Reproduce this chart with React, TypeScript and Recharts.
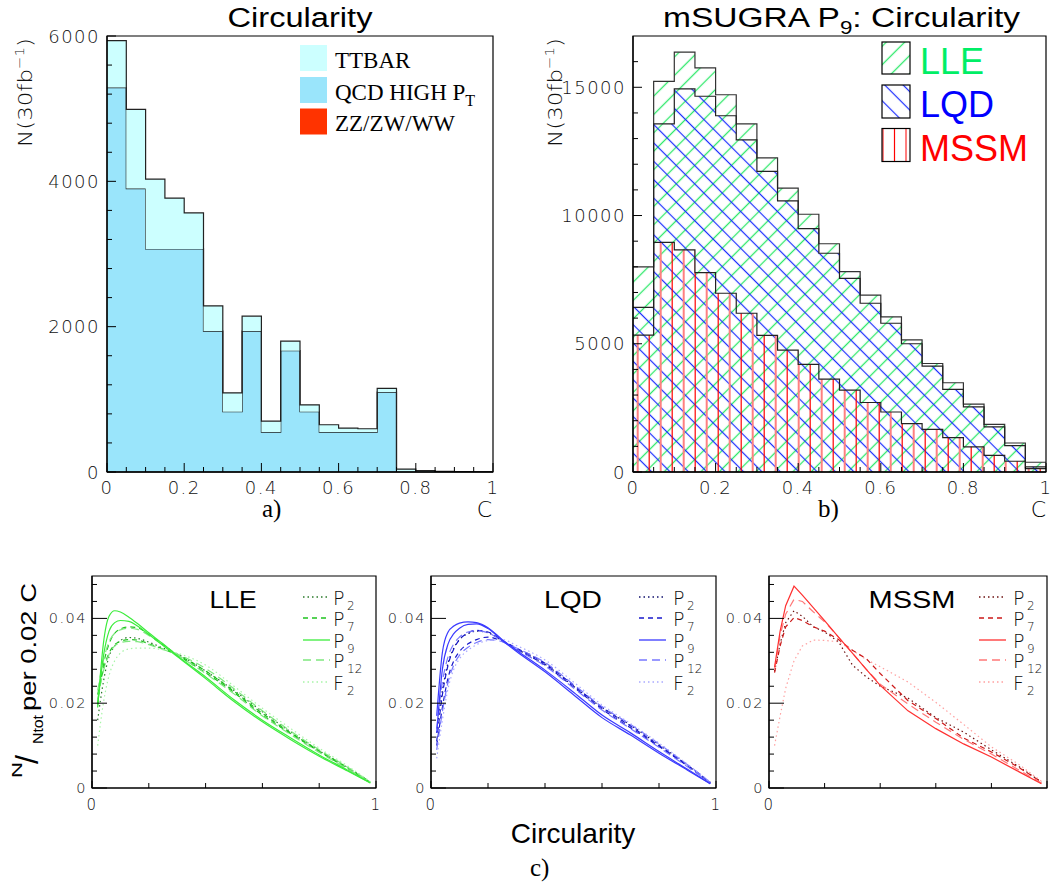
import React from 'react'
import { Area, ComposedChart, Line, LineChart, ReferenceArea, XAxis, YAxis } from 'recharts'

// histogram binning shared by the two upper panels
const binLow = [0, 0.05, 0.1, 0.15, 0.2, 0.25, 0.3, 0.35, 0.4, 0.45, 0.5, 0.55, 0.6, 0.65, 0.7, 0.75, 0.8, 0.85, 0.9, 0.95]
const binTop = 1

// a) Standard Model backgrounds, stacked
const qcdHighPt = [5290, 3900, 3070, 3070, 3070, 1940, 830, 1940, 550, 1670, 830, 550, 550, 550, 1100, 0, 0, 0, 0, 0]
const dibosons = [0, 0, 0, 0, 0, 0, 0, 0, 0, 0, 0, 0, 0, 0, 0, 0, 0, 0, 0, 0]
const ttbar = [645, 1090, 960, 700, 495, 345, 260, 205, 150, 130, 95, 100, 55, 45, 50, 40, 20, 8, 5, 3]

// b) mSUGRA point 9, overlaid
const lle = [8000, 15230, 16370, 15760, 14710, 13570, 12250, 11070, 10050, 8900, 7810, 6900, 6050, 5150, 4230, 3480, 2650, 1860, 1130, 380]
const lqd = [6420, 13570, 14940, 14650, 13890, 12950, 11720, 10570, 9490, 8530, 7550, 6580, 5800, 5000, 4130, 3220, 2540, 1760, 1030, 200]
const mssm = [5340, 8950, 8660, 7770, 6970, 6190, 5330, 4750, 4200, 3620, 3190, 2710, 2340, 1890, 1660, 1340, 980, 650, 420, 130]

// c) normalised shapes
const shapeX = [0.02, 0.04, 0.06, 0.08, 0.1, 0.13, 0.16, 0.2, 0.25, 0.3, 0.4, 0.5, 0.6, 0.7, 0.8, 0.9, 0.98]
const lleP2 = [0.016, 0.025, 0.031, 0.0335, 0.0348, 0.0355, 0.0353, 0.0344, 0.033, 0.0316, 0.0276, 0.023, 0.018, 0.0132, 0.0088, 0.0048, 0.0014]
const lleP7a = [0.02, 0.029, 0.034, 0.0365, 0.0375, 0.038, 0.0378, 0.0362, 0.0338, 0.0314, 0.0272, 0.0225, 0.0172, 0.0128, 0.0086, 0.0046, 0.0013]
const lleP7b = [0.022, 0.028, 0.0318, 0.0338, 0.0346, 0.035, 0.0349, 0.034, 0.0328, 0.0314, 0.0276, 0.0228, 0.0176, 0.013, 0.0088, 0.0048, 0.0014]
const lleP9a = [0.019, 0.034, 0.0405, 0.0418, 0.0415, 0.0403, 0.0388, 0.0366, 0.034, 0.0312, 0.0262, 0.0208, 0.016, 0.0118, 0.0078, 0.0042, 0.0012]
const lleP9b = [0.0195, 0.031, 0.037, 0.039, 0.0395, 0.0393, 0.0382, 0.0362, 0.0336, 0.031, 0.0258, 0.0204, 0.0156, 0.0114, 0.0075, 0.004, 0.0012]
const lleP12a = [0.023, 0.03, 0.0345, 0.0365, 0.0373, 0.0377, 0.0374, 0.036, 0.0337, 0.0314, 0.027, 0.0222, 0.017, 0.0126, 0.0084, 0.0045, 0.0013]
const lleP12b = [0.021, 0.0275, 0.0315, 0.0335, 0.0343, 0.0346, 0.0345, 0.0338, 0.0327, 0.0316, 0.0282, 0.0234, 0.0182, 0.0134, 0.009, 0.0049, 0.0014]
const lleF2 = [0.01, 0.02, 0.0265, 0.03, 0.0318, 0.0328, 0.033, 0.033, 0.0326, 0.0318, 0.029, 0.024, 0.0188, 0.014, 0.0094, 0.0052, 0.0015]

const lqdP2 = [0.013, 0.023, 0.0295, 0.033, 0.035, 0.0364, 0.037, 0.0366, 0.0347, 0.0328, 0.0292, 0.024, 0.019, 0.0148, 0.0102, 0.0054, 0.0013]
const lqdP7a = [0.011, 0.022, 0.029, 0.0328, 0.035, 0.0366, 0.0372, 0.0368, 0.0348, 0.0328, 0.029, 0.0238, 0.0186, 0.0142, 0.0098, 0.0052, 0.0012]
const lqdP7b = [0.01, 0.019, 0.026, 0.03, 0.0322, 0.034, 0.035, 0.0356, 0.0346, 0.033, 0.0294, 0.0242, 0.019, 0.0146, 0.01, 0.0054, 0.0013]
const lqdP9a = [0.017, 0.032, 0.0368, 0.0382, 0.0389, 0.0392, 0.039, 0.0378, 0.035, 0.0325, 0.0278, 0.0226, 0.0172, 0.013, 0.0086, 0.0044, 0.001]
const lqdP9b = [0.013, 0.028, 0.034, 0.0364, 0.0377, 0.0386, 0.0387, 0.0376, 0.0348, 0.0322, 0.0274, 0.022, 0.0166, 0.0125, 0.0082, 0.0042, 0.001]
const lqdP12a = [0.014, 0.025, 0.031, 0.034, 0.0356, 0.0368, 0.0371, 0.0366, 0.0346, 0.0326, 0.0288, 0.0236, 0.0184, 0.014, 0.0096, 0.005, 0.0012]
const lqdP12b = [0.009, 0.018, 0.025, 0.029, 0.0313, 0.0332, 0.0343, 0.035, 0.0345, 0.033, 0.0296, 0.0244, 0.0192, 0.015, 0.0104, 0.0055, 0.0013]
const lqdF2 = [0.007, 0.016, 0.0235, 0.028, 0.0305, 0.0325, 0.0338, 0.0348, 0.035, 0.0336, 0.0302, 0.025, 0.0196, 0.0152, 0.0106, 0.0056, 0.0014]

const mssmX = [0.02, 0.04, 0.06, 0.09, 0.12, 0.16, 0.2, 0.25, 0.3, 0.35, 0.4, 0.5, 0.6, 0.7, 0.8, 0.9, 0.98]
const mssmP2 = [0.0275, 0.034, 0.039, 0.0418, 0.0405, 0.038, 0.0368, 0.0345, 0.029, 0.0262, 0.024, 0.0212, 0.0166, 0.0132, 0.009, 0.005, 0.0014]
const mssmP7 = [0.0272, 0.0335, 0.038, 0.0402, 0.0395, 0.038, 0.037, 0.035, 0.0325, 0.0305, 0.027, 0.0206, 0.0164, 0.0118, 0.0085, 0.0048, 0.0014]
const mssmP9 = [0.0285, 0.037, 0.043, 0.0476, 0.0455, 0.0425, 0.0395, 0.0356, 0.0318, 0.028, 0.0242, 0.0182, 0.014, 0.0104, 0.0073, 0.0038, 0.001]
const mssmP12 = [0.028, 0.036, 0.041, 0.0445, 0.044, 0.0415, 0.0392, 0.0356, 0.0318, 0.028, 0.0245, 0.0198, 0.0155, 0.0115, 0.008, 0.0042, 0.0012]
const mssmF2 = [0.01, 0.017, 0.0235, 0.03, 0.0335, 0.0349, 0.0348, 0.0345, 0.0325, 0.0303, 0.0286, 0.025, 0.0202, 0.015, 0.0097, 0.0055, 0.0016]

// axis ticks
const aYMajor = [0, 2000, 4000, 6000]
const aYMinor = [400, 800, 1200, 1600, 2400, 2800, 3200, 3600, 4400, 4800, 5200, 5600]
const bYMajor = [0, 5000, 10000, 15000]
const bYMinor = [1000, 2000, 3000, 4000, 6000, 7000, 8000, 9000, 11000, 12000, 13000, 14000, 16000]
const histXMajor = [0, 0.2, 0.4, 0.6, 0.8, 1]
const histXMinor = [0.05, 0.1, 0.15, 0.25, 0.3, 0.35, 0.45, 0.5, 0.55, 0.65, 0.7, 0.75, 0.85, 0.9, 0.95]
const cYMajor = [0, 0.02, 0.04]
const cYMinor = [0.004, 0.008, 0.012, 0.016, 0.024, 0.028, 0.032, 0.036, 0.044, 0.048]
const cXMajor = [0, 1]
const cXMinor = [0.2, 0.4, 0.6, 0.8]

const legendKeys = ['2', '7', '9', '12', '2']
const legendLetters = ['P', 'P', 'P', 'P', 'F']

const SANS = '"Liberation Sans", Arial, Helvetica, sans-serif'
const THIN = '"DejaVu Sans", sans-serif'
const SERIF = '"Liberation Serif", "Times New Roman", serif'

const stepRows = (cols: Record<string, number[]>) =>
  [...binLow, binTop].map((x, i) => {
    const row: Record<string, number> = { x }
    for (const k of Object.keys(cols)) row[k] = cols[k][Math.min(i, cols[k].length - 1)]
    return row
  })

const curveRows = (xs: number[], cols: Record<string, number[]>) =>
  xs.map((x, i) => {
    const row: Record<string, number> = { x }
    for (const k of Object.keys(cols)) row[k] = cols[k][i]
    return row
  })

type TickSpec = {
  side: 'left' | 'bottom'
  edge: number
  majors: number[]
  labelled?: number[]
  fmt: (v: number) => string
  majorLen: number
  minorLen: number
  gap: number
  fontSize: number
  spacing: number
}

const near = (list: number[], v: number) => list.some((m) => Math.abs(m - v) < 1e-9)

// ROOT-style ticks: drawn inwards, labels only on the major ones
const inwardTick = (spec: TickSpec) => (p: any) => {
  const v = p.payload.value as number
  const major = near(spec.majors, v)
  const len = major ? spec.majorLen : spec.minorLen
  const label = major && near(spec.labelled ?? spec.majors, v) ? spec.fmt(v) : ''
  const textProps = {
    fontFamily: THIN,
    fontWeight: 200,
    fontSize: spec.fontSize,
    letterSpacing: spec.spacing,
    fill: '#111'
  }
  if (spec.side === 'left') {
    return (
      <g>
        <line x1={spec.edge} x2={spec.edge + len} y1={p.y} y2={p.y} stroke="#000" strokeWidth={1} />
        {label && (
          <text x={spec.edge - spec.gap} y={p.y} textAnchor="end" dominantBaseline="central" {...textProps}>
            {label}
          </text>
        )}
      </g>
    )
  }
  return (
    <g>
      <line x1={p.x} x2={p.x} y1={spec.edge} y2={spec.edge - len} stroke="#000" strokeWidth={1} />
      {label && (
        <text x={p.x} y={spec.edge + spec.gap} textAnchor="middle" dominantBaseline="central" {...textProps}>
          {label}
        </text>
      )}
    </g>
  )
}

const fmtPlain = (v: number) => String(v)
const fmtFrac = (v: number) => (v === 0 ? '0' : v === 1 ? '1' : v.toFixed(1))
const fmtShape = (v: number) => (v === 0 ? '0' : v.toFixed(2))

function BackgroundPanel() {
  const data = stepRows({ qcd: qcdHighPt, zz: dibosons, tt: ttbar })
  return (
    <div style={{ position: 'absolute', left: 0, top: 0 }}>
      <ComposedChart width={520} height={520} data={data} margin={{ top: 36, right: 27, bottom: 18, left: 47 }}>
        <XAxis
          type="number"
          dataKey="x"
          domain={[0, 1]}
          ticks={[...histXMajor, ...histXMinor]}
          interval={0}
          height={30}
          tickLine={false}
          axisLine={{ stroke: '#000', strokeWidth: 1.5 }}
          tick={inwardTick({ side: 'bottom', edge: 472, majors: histXMajor, fmt: fmtFrac, majorLen: 9, minorLen: 5, gap: 15, fontSize: 18, spacing: 1.5 })}
        />
        <YAxis
          type="number"
          domain={[0, 6000]}
          ticks={[...aYMajor, ...aYMinor]}
          interval={0}
          width={60}
          allowDataOverflow
          tickLine={false}
          axisLine={{ stroke: '#000', strokeWidth: 1.2 }}
          tick={inwardTick({ side: 'left', edge: 107, majors: aYMajor, fmt: fmtPlain, majorLen: 9, minorLen: 5, gap: 7, fontSize: 18, spacing: 1.5 })}
        />
        <Area type="stepAfter" dataKey="qcd" stackId="sm" stroke="#222" strokeWidth={1.2} fill="#9ae5fb" fillOpacity={1} isAnimationActive={false} dot={false} activeDot={false} />
        <Area type="stepAfter" dataKey="zz" stackId="sm" stroke="none" fill="#ff3300" fillOpacity={1} isAnimationActive={false} dot={false} activeDot={false} />
        <Area type="stepAfter" dataKey="tt" stackId="sm" stroke="#222" strokeWidth={1.2} fill="#ccffff" fillOpacity={1} isAnimationActive={false} dot={false} activeDot={false} />
        <ReferenceArea x1={0} x2={1} y1={0} y2={6000} fill="none" stroke="#000" strokeWidth={1.2} ifOverflow="extendDomain" />
      </ComposedChart>
    </div>
  )
}

function SignalPanel() {
  const data = stepRows({ lle, lqd, mssm })
  return (
    <div style={{ position: 'absolute', left: 520, top: 0 }}>
      <ComposedChart width={531} height={520} data={data} margin={{ top: 36, right: 5, bottom: 18, left: 53 }}>
        <defs>
          <pattern id="hatchLLE" patternUnits="userSpaceOnUse" width={13} height={13} patternTransform="rotate(45)">
            <line x1={6.5} y1={0} x2={6.5} y2={13} stroke="#2ee86a" strokeWidth={1.3} />
          </pattern>
          <pattern id="hatchLQD" patternUnits="userSpaceOnUse" width={13} height={13} patternTransform="rotate(-45)">
            <line x1={6.5} y1={0} x2={6.5} y2={13} stroke="#1a2cff" strokeWidth={1.2} />
          </pattern>
          <pattern id="hatchMSSM" patternUnits="userSpaceOnUse" width={23} height={10}>
            <line x1={2.7} y1={0} x2={2.7} y2={10} stroke="#ff8080" strokeWidth={2} />
            <line x1={14.2} y1={0} x2={14.2} y2={10} stroke="#ff0000" strokeWidth={1.2} />
          </pattern>
        </defs>
        <XAxis
          type="number"
          dataKey="x"
          domain={[0, 1]}
          ticks={[...histXMajor, ...histXMinor]}
          interval={0}
          height={30}
          tickLine={false}
          axisLine={{ stroke: '#000', strokeWidth: 1.5 }}
          tick={inwardTick({ side: 'bottom', edge: 472, majors: histXMajor, fmt: fmtFrac, majorLen: 9, minorLen: 5, gap: 15, fontSize: 18, spacing: 1.5 })}
        />
        <YAxis
          type="number"
          domain={[0, 17000]}
          ticks={[...bYMajor, ...bYMinor]}
          interval={0}
          width={60}
          allowDataOverflow
          tickLine={false}
          axisLine={{ stroke: '#000', strokeWidth: 1.2 }}
          tick={inwardTick({ side: 'left', edge: 113, majors: bYMajor, fmt: fmtPlain, majorLen: 9, minorLen: 5, gap: 7, fontSize: 18, spacing: 1.5 })}
        />
        <Area type="stepAfter" dataKey="lle" stroke="#333" strokeWidth={1.2} fill="url(#hatchLLE)" fillOpacity={1} isAnimationActive={false} dot={false} activeDot={false} />
        <Area type="stepAfter" dataKey="lqd" stroke="#222" strokeWidth={1.2} fill="url(#hatchLQD)" fillOpacity={1} isAnimationActive={false} dot={false} activeDot={false} />
        <Area type="stepAfter" dataKey="mssm" stroke="#222" strokeWidth={1.2} fill="url(#hatchMSSM)" fillOpacity={1} isAnimationActive={false} dot={false} activeDot={false} />
        <ReferenceArea x1={0} x2={1} y1={0} y2={17000} fill="none" stroke="#000" strokeWidth={1.2} ifOverflow="extendDomain" />
      </ComposedChart>
    </div>
  )
}

type Curve = { key: string; vals: number[]; color: string; dash?: string }

const palette = {
  lle: ['#2a7a2a', '#1fc41f', '#3cec3c', '#7fe87f', '#a8f5a8'],
  lqd: ['#10106e', '#1818cc', '#3a3aff', '#7878ff', '#a9a9ff'],
  mssm: ['#6e1010', '#cc1818', '#ff3030', '#ff7878', '#ffa0a0']
}
const dashes = ['1.5 3', '5 4', undefined, '8 5', '1.5 3']

const lleCurves: Curve[] = [
  { key: 'p2', vals: lleP2, color: palette.lle[0], dash: dashes[0] },
  { key: 'p7a', vals: lleP7a, color: palette.lle[1], dash: dashes[1] },
  { key: 'p7b', vals: lleP7b, color: palette.lle[1], dash: dashes[1] },
  { key: 'p12a', vals: lleP12a, color: palette.lle[3], dash: dashes[3] },
  { key: 'p12b', vals: lleP12b, color: palette.lle[3], dash: dashes[3] },
  { key: 'f2', vals: lleF2, color: palette.lle[4], dash: dashes[4] },
  { key: 'p9a', vals: lleP9a, color: palette.lle[2] },
  { key: 'p9b', vals: lleP9b, color: palette.lle[2] }
]
const lqdCurves: Curve[] = [
  { key: 'p2', vals: lqdP2, color: palette.lqd[0], dash: dashes[0] },
  { key: 'p7a', vals: lqdP7a, color: palette.lqd[1], dash: dashes[1] },
  { key: 'p7b', vals: lqdP7b, color: palette.lqd[1], dash: dashes[1] },
  { key: 'p12a', vals: lqdP12a, color: palette.lqd[3], dash: dashes[3] },
  { key: 'p12b', vals: lqdP12b, color: palette.lqd[3], dash: dashes[3] },
  { key: 'f2', vals: lqdF2, color: palette.lqd[4], dash: dashes[4] },
  { key: 'p9a', vals: lqdP9a, color: palette.lqd[2] },
  { key: 'p9b', vals: lqdP9b, color: palette.lqd[2] }
]
const mssmCurves: Curve[] = [
  { key: 'f2', vals: mssmF2, color: palette.mssm[4], dash: dashes[4] },
  { key: 'p2', vals: mssmP2, color: palette.mssm[0], dash: dashes[0] },
  { key: 'p7', vals: mssmP7, color: palette.mssm[1], dash: dashes[1] },
  { key: 'p12', vals: mssmP12, color: palette.mssm[3], dash: dashes[3] },
  { key: 'p9', vals: mssmP9, color: palette.mssm[2] }
]

type ShapeProps = {
  left: number
  width: number
  plotLeft: number
  plotRight: number
  xs: number[]
  curves: Curve[]
  lineType: 'monotone' | 'linear'
  xLabelled: number[]
}

function ShapePanel({ left, width, plotLeft, plotRight, xs, curves, lineType, xLabelled }: ShapeProps) {
  const cols: Record<string, number[]> = {}
  for (const c of curves) cols[c.key] = c.vals
  const data = curveRows(xs, cols)
  return (
    <div style={{ position: 'absolute', left, top: 540 }}>
      <LineChart width={width} height={280} data={data} margin={{ top: 36, right: width - plotRight, bottom: 2, left: plotLeft - 60 }}>
        <XAxis
          type="number"
          dataKey="x"
          domain={[0, 1]}
          ticks={[...cXMajor, ...cXMinor]}
          interval={0}
          height={30}
          tickLine={false}
          axisLine={{ stroke: '#000', strokeWidth: 1.2 }}
          tick={inwardTick({ side: 'bottom', edge: 248, majors: cXMajor, labelled: xLabelled, fmt: fmtFrac, majorLen: 7, minorLen: 5, gap: 17, fontSize: 15, spacing: 1.5 })}
        />
        <YAxis
          type="number"
          domain={[0, 0.05]}
          ticks={[...cYMajor, ...cYMinor]}
          interval={0}
          width={60}
          allowDataOverflow
          tickLine={false}
          axisLine={{ stroke: '#000', strokeWidth: 1.2 }}
          tick={inwardTick({ side: 'left', edge: plotLeft, majors: cYMajor, fmt: fmtShape, majorLen: 15, minorLen: 5, gap: 5, fontSize: 14.5, spacing: 1.5 })}
        />
        {curves.map((c) => (
          <Line
            key={c.key}
            type={lineType}
            dataKey={c.key}
            stroke={c.color}
            strokeWidth={1.2}
            strokeDasharray={c.dash}
            dot={false}
            activeDot={false}
            isAnimationActive={false}
          />
        ))}
        <ReferenceArea x1={0} x2={1} y1={0} y2={0.05} fill="none" stroke="#000" strokeWidth={1.2} ifOverflow="extendDomain" />
      </LineChart>
    </div>
  )
}

// "P_9"-style legend for the shape panels
function ShapeKey({ lineX, textX, colors }: { lineX: number; textX: number; colors: string[] }) {
  const rows = [597, 618, 640, 660, 682]
  return (
    <g>
      {rows.map((y, i) => (
        <g key={i}>
          <line x1={lineX} x2={lineX + 27} y1={y} y2={y} stroke={colors[i]} strokeWidth={1.3} strokeDasharray={dashes[i]} />
          <text x={textX} y={y + 8} fontFamily={THIN} fontWeight={200} fontSize={19} fill="#111">
            {legendLetters[i]}
          </text>
          <text x={textX + 14} y={y + 13} fontFamily={THIN} fontWeight={200} fontSize={12} fill="#111">
            {legendKeys[i]}
          </text>
        </g>
      ))}
    </g>
  )
}

function Annotations() {
  return (
    <svg width={1051} height={888} style={{ position: 'absolute', left: 0, top: 0, pointerEvents: 'none' }}>
      <defs>
        <pattern id="keyLLE" patternUnits="userSpaceOnUse" width={13} height={13} patternTransform="rotate(45)">
          <line x1={6.5} y1={0} x2={6.5} y2={13} stroke="#2ee86a" strokeWidth={1.3} />
        </pattern>
        <pattern id="keyLQD" patternUnits="userSpaceOnUse" width={13} height={13} patternTransform="rotate(-45)">
          <line x1={6.5} y1={0} x2={6.5} y2={13} stroke="#1a2cff" strokeWidth={1.2} />
        </pattern>
        <pattern id="keyMSSM" patternUnits="userSpaceOnUse" width={23} height={10}>
          <line x1={9} y1={0} x2={9} y2={10} stroke="#ff8080" strokeWidth={2} />
          <line x1={20.5} y1={0} x2={20.5} y2={10} stroke="#ff0000" strokeWidth={1.2} />
        </pattern>
      </defs>

      {/* a) */}
      <text x={300} y={27} textAnchor="middle" fontFamily={SANS} fontSize={27} textLength={145} lengthAdjust="spacingAndGlyphs">
        Circularity
      </text>
      <text transform="translate(32,147) rotate(-90)" fontFamily={THIN} fontWeight={200} fontSize={20} textLength={109} lengthAdjust="spacingAndGlyphs" fill="#111">
        N(30fb<tspan fontSize={13} dy={-8}>−1</tspan>
        <tspan dy={8}>)</tspan>
      </text>
      <rect x={300} y={45} width={27} height={26} fill="#ccffff" />
      <rect x={300} y={77} width={27} height={26} fill="#9ae5fb" />
      <rect x={300} y={108.5} width={27} height={26} fill="#ff3300" />
      <text x={335} y={68} fontFamily={SERIF} fontSize={23}>TTBAR</text>
      <text x={335} y={100} fontFamily={SERIF} fontSize={23}>
        QCD HIGH P<tspan fontSize={16} dy={6}>T</tspan>
      </text>
      <text x={335} y={131} fontFamily={SERIF} fontSize={23}>ZZ/ZW/WW</text>
      <text x={262} y={517} fontFamily={SERIF} fontSize={25}>a)</text>
      <text x={492} y={517} textAnchor="end" fontFamily={THIN} fontWeight={200} fontSize={22}>C</text>

      {/* b) */}
      <text x={663} y={27} fontFamily={SANS} fontSize={27} textLength={357} lengthAdjust="spacingAndGlyphs">
        mSUGRA P<tspan fontSize={18} dy={7}>9</tspan>
        <tspan dy={-7}>: Circularity</tspan>
      </text>
      <text transform="translate(562,147) rotate(-90)" fontFamily={THIN} fontWeight={200} fontSize={20} textLength={109} lengthAdjust="spacingAndGlyphs" fill="#111">
        N(30fb<tspan fontSize={13} dy={-8}>−1</tspan>
        <tspan dy={8}>)</tspan>
      </text>
      <rect x={882} y={42} width={28} height={32} fill="url(#keyLLE)" stroke="#000" strokeWidth={1.2} />
      <rect x={882} y={85} width={28} height={33} fill="url(#keyLQD)" stroke="#000" strokeWidth={1.2} />
      <rect x={882} y={128.5} width={28} height={33} fill="url(#keyMSSM)" stroke="#000" strokeWidth={1.2} />
      <text x={920} y={73.5} fontFamily={SANS} fontSize={36} fill="#00ee66">LLE</text>
      <text x={920} y={117} fontFamily={SANS} fontSize={36} fill="#0000ff">LQD</text>
      <text x={920} y={160.5} fontFamily={SANS} fontSize={36} fill="#ff0000">MSSM</text>
      <text x={818} y={517} fontFamily={SERIF} fontSize={25}>b)</text>
      <text x={1046} y={517} textAnchor="end" fontFamily={THIN} fontWeight={200} fontSize={22}>C</text>

      {/* c) */}
      <text x={233} y={608} textAnchor="middle" fontFamily={SANS} fontSize={24} textLength={47} lengthAdjust="spacingAndGlyphs">LLE</text>
      <text x={573} y={608} textAnchor="middle" fontFamily={SANS} fontSize={24} textLength={58} lengthAdjust="spacingAndGlyphs">LQD</text>
      <text x={912} y={608} textAnchor="middle" fontFamily={SANS} fontSize={24} textLength={87} lengthAdjust="spacingAndGlyphs">MSSM</text>
      <ShapeKey lineX={303} textX={333} colors={palette.lle} />
      <ShapeKey lineX={639} textX={673} colors={palette.lqd} />
      <ShapeKey lineX={979} textX={1013} colors={palette.mssm} />

      <text transform="translate(22,778) rotate(-90)" fontFamily={SANS} fontSize={15} textLength={16} lengthAdjust="spacingAndGlyphs">N</text>
      <text transform="translate(38,764) rotate(-90)" fontFamily={SANS} fontSize={32}>/</text>
      <text transform="translate(43,744) rotate(-90)" fontFamily={SANS} fontSize={15} textLength={29} lengthAdjust="spacingAndGlyphs">Ntot</text>
      <text transform="translate(36,711) rotate(-90)" fontFamily={SANS} fontSize={22} textLength={128} lengthAdjust="spacingAndGlyphs">per 0.02 C</text>

      <text x={573} y={843} textAnchor="middle" fontFamily={SANS} fontSize={28}>Circularity</text>
      <text x={530} y={876} fontFamily={SERIF} fontSize={25}>c)</text>
    </svg>
  )
}

export default function App() {
  return (
    <div style={{ position: 'absolute', left: 0, top: 0, width: 1051, height: 888, background: '#fff', overflow: 'hidden' }}>
      <BackgroundPanel />
      <SignalPanel />
      <ShapePanel left={0} width={392} plotLeft={92} plotRight={376} xs={shapeX} curves={lleCurves} lineType="monotone" xLabelled={[0, 1]} />
      <ShapePanel left={360} width={372} plotLeft={71} plotRight={356} xs={shapeX} curves={lqdCurves} lineType="monotone" xLabelled={[0, 1]} />
      <ShapePanel left={700} width={351} plotLeft={69} plotRight={347} xs={mssmX} curves={mssmCurves} lineType="linear" xLabelled={[0]} />
      <Annotations />
    </div>
  )
}
